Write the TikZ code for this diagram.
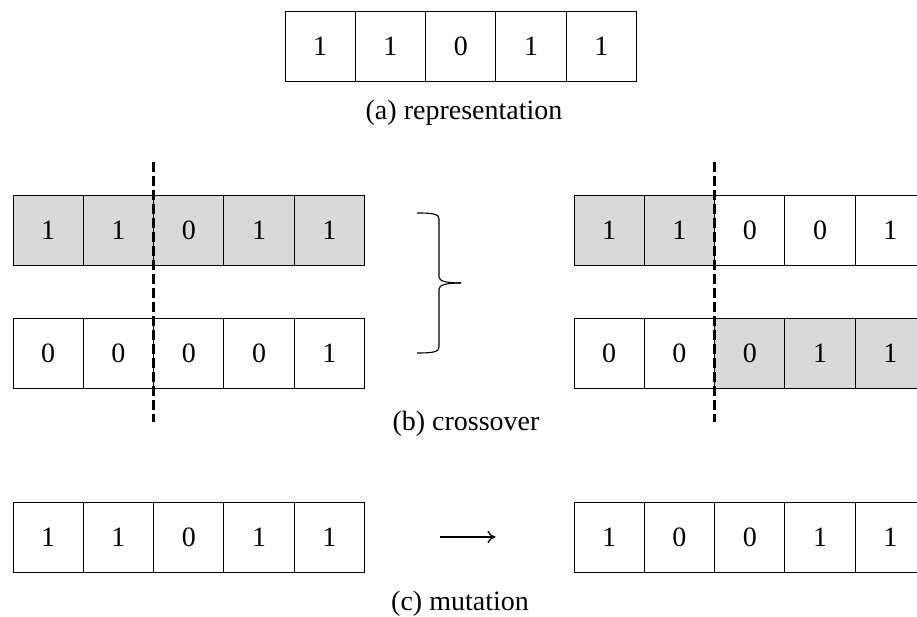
\documentclass[tikz,border=0pt]{standalone}
\usepackage{fontspec}
\setmainfont{Liberation Serif}
\usetikzlibrary{arrows.meta}
\definecolor{cellgray}{HTML}{D9D9D9}
\tikzset{
  cell/.style={draw, line width=1pt, minimum width=70.3pt, minimum height=70pt, inner sep=0pt, font=\fontsize{28}{28}\selectfont, anchor=center},
  shaded/.style={cell, fill=cellgray},
  cut/.style={line width=3.2pt, dash pattern=on 10pt off 4pt},
  caption/.style={font=\fontsize{28}{32}\selectfont, inner sep=0pt},
  bracket/.style={line width=1.1pt},
  mutarrow/.style={line width=1.3pt, -{To[length=8pt,width=12pt]}}
}
\newcommand{\cellrow}[5]{% name, left x, center y, list of values, list of styles
  \foreach \v [count=\i] in {#4} {
    \pgfmathsetmacro{\cx}{#2+35.15+70.3*(\i-1)}
    \foreach \s [count=\j] in {#5} { \ifnum\j=\i \global\let\gst\s \fi }
    \node[\gst] (#1\i) at (\cx,#3) {\v};
  }
}
\begin{document}
\begin{tikzpicture}[x=1pt,y=-1pt]
\useasboundingbox (0,0) rectangle (917,617);
% (a)
\cellrow{a}{285}{46.5}{1,1,0,1,1}{cell,cell,cell,cell,cell}
\node[caption] (capa) at (464,113) {(a) representation};
% (b) left parents
\cellrow{p}{13}{230.5}{1,1,0,1,1}{shaded,shaded,shaded,shaded,shaded}
\cellrow{q}{13}{353}{0,0,0,0,1}{cell,cell,cell,cell,cell}
% (b) right offspring
\cellrow{r}{574}{230.5}{1,1,0,0,1}{shaded,shaded,cell,cell,cell}
\cellrow{s}{574}{353}{0,0,0,1,1}{cell,cell,shaded,shaded,shaded}
% cut lines
\coordinate (cl1) at (153.6,162);
\coordinate (cl2) at (153.6,422);
\coordinate (cr1) at (714.6,162);
\coordinate (cr2) at (714.6,422);
\draw[cut] (cl1) -- (cl2);
\draw[cut] (cr1) -- (cr2);
% brace
\draw[bracket] (417,213) .. controls (433,213) and (439,214) .. (439,219) -- (439,277)
  .. controls (439,281) and (446,283) .. (461,283);
\draw[bracket] (461,283) .. controls (446,283) and (439,285) .. (439,289) -- (439,347)
  .. controls (439,352) and (433,353) .. (417,353);
\node[caption] (capb) at (466,424) {(b) crossover};
% (c)
\cellrow{m}{13}{537}{1,1,0,1,1}{cell,cell,cell,cell,cell}
\cellrow{n}{574}{537}{1,0,0,1,1}{cell,cell,cell,cell,cell}
\draw[mutarrow, shorten <=75pt, shorten >=78pt] (m5.east) -- (n1.west);
\node[caption] (capc) at (460,604) {(c) mutation};
\end{tikzpicture}
\end{document}
